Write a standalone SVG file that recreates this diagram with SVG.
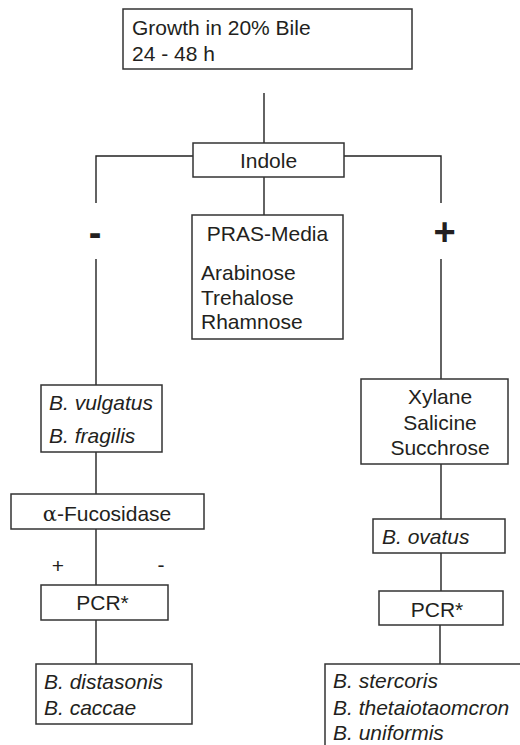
<svg xmlns="http://www.w3.org/2000/svg" width="520" height="745" viewBox="0 0 520 745">
  <style>
    .box { fill: #ffffff; stroke: #333333; stroke-width: 1.5; }
    .wire { fill: none; stroke: #222222; stroke-width: 1.4; }
    text { font-family: "Liberation Sans", Arial, Helvetica, sans-serif; font-size: 21px; fill: #231f20; }
    .it { font-style: italic; }
    .mid { text-anchor: middle; }
    .sign { font-size: 38px; font-weight: bold; text-anchor: middle; }
  </style>

  <rect width="520" height="745" fill="#ffffff"/>

  <!-- connectors -->
  <g id="connectors">
    <line class="wire" x1="264" y1="93" x2="264" y2="143"/>
    <polyline class="wire" points="96,203 96,156 193,156"/>
    <polyline class="wire" points="344,156 441,156 441,203"/>
    <line class="wire" x1="96" y1="259" x2="96" y2="385"/>
    <line class="wire" x1="441" y1="259" x2="441" y2="379"/>
    <line class="wire" x1="264" y1="177" x2="264" y2="215"/>
    <line class="wire" x1="96" y1="452" x2="96" y2="494"/>
    <line class="wire" x1="96" y1="529" x2="96" y2="585"/>
    <line class="wire" x1="96" y1="620" x2="96" y2="664"/>
    <line class="wire" x1="441" y1="464" x2="441" y2="519"/>
    <line class="wire" x1="441" y1="553" x2="441" y2="591"/>
    <line class="wire" x1="440" y1="625" x2="440" y2="664"/>
    <text class="sign" x="95" y="246">-</text>
    <text class="sign" x="444.5" y="244.5">+</text>
    <text class="mid" x="58" y="573">+</text>
    <text class="mid" x="161" y="572">-</text>
  </g>

  <g id="bile">
    <rect class="box" x="123" y="9" width="289" height="60"/>
    <text x="132" y="34.5">Growth in 20% Bile</text>
    <text x="132" y="60.5">24 - 48 h</text>
  </g>

  <g id="indole">
    <rect class="box" x="193" y="143" width="151" height="34"/>
    <text class="mid" x="268.5" y="167.5">Indole</text>
  </g>

  <g id="pras">
    <rect class="box" x="192" y="215" width="151" height="124"/>
    <text class="mid" x="267.5" y="240.5">PRAS-Media</text>
    <text x="201" y="280">Arabinose</text>
    <text x="201" y="304.5">Trehalose</text>
    <text x="201" y="329">Rhamnose</text>
  </g>

  <g id="vulgatus">
    <rect class="box" x="41" y="385" width="121" height="67"/>
    <text class="it" x="49" y="410">B. vulgatus</text>
    <text class="it" x="49" y="442.5">B. fragilis</text>
  </g>

  <g id="fucosidase">
    <rect class="box" x="11" y="494" width="193" height="35"/>
    <text class="mid" x="107" y="521"><tspan font-family="'DejaVu Serif', serif">α</tspan>-Fucosidase</text>
  </g>

  <g id="pcr-left">
    <rect class="box" x="41" y="585" width="127" height="35"/>
    <text class="mid" x="102.5" y="610">PCR*</text>
  </g>

  <g id="distasonis">
    <rect class="box" x="36" y="664" width="156" height="60"/>
    <text class="it" x="44" y="689">B. distasonis</text>
    <text class="it" x="44" y="714.5">B. caccae</text>
  </g>

  <g id="xylane">
    <rect class="box" x="361" y="379" width="147" height="85"/>
    <text class="mid" x="440" y="404">Xylane</text>
    <text class="mid" x="440" y="430">Salicine</text>
    <text class="mid" x="440" y="455">Succhrose</text>
  </g>

  <g id="ovatus">
    <rect class="box" x="373" y="519" width="132" height="34"/>
    <text class="it" x="382" y="544">B. ovatus</text>
  </g>

  <g id="pcr-right">
    <rect class="box" x="379" y="591" width="124" height="34"/>
    <text class="mid" x="437" y="617">PCR*</text>
  </g>

  <g id="stercoris">
    <rect class="box" x="325" y="664" width="210" height="95"/>
    <text class="it" x="333" y="688">B. stercoris</text>
    <text class="it" x="333" y="715">B. thetaiotaomcron</text>
    <text class="it" x="333" y="740">B. uniformis</text>
  </g>
</svg>
